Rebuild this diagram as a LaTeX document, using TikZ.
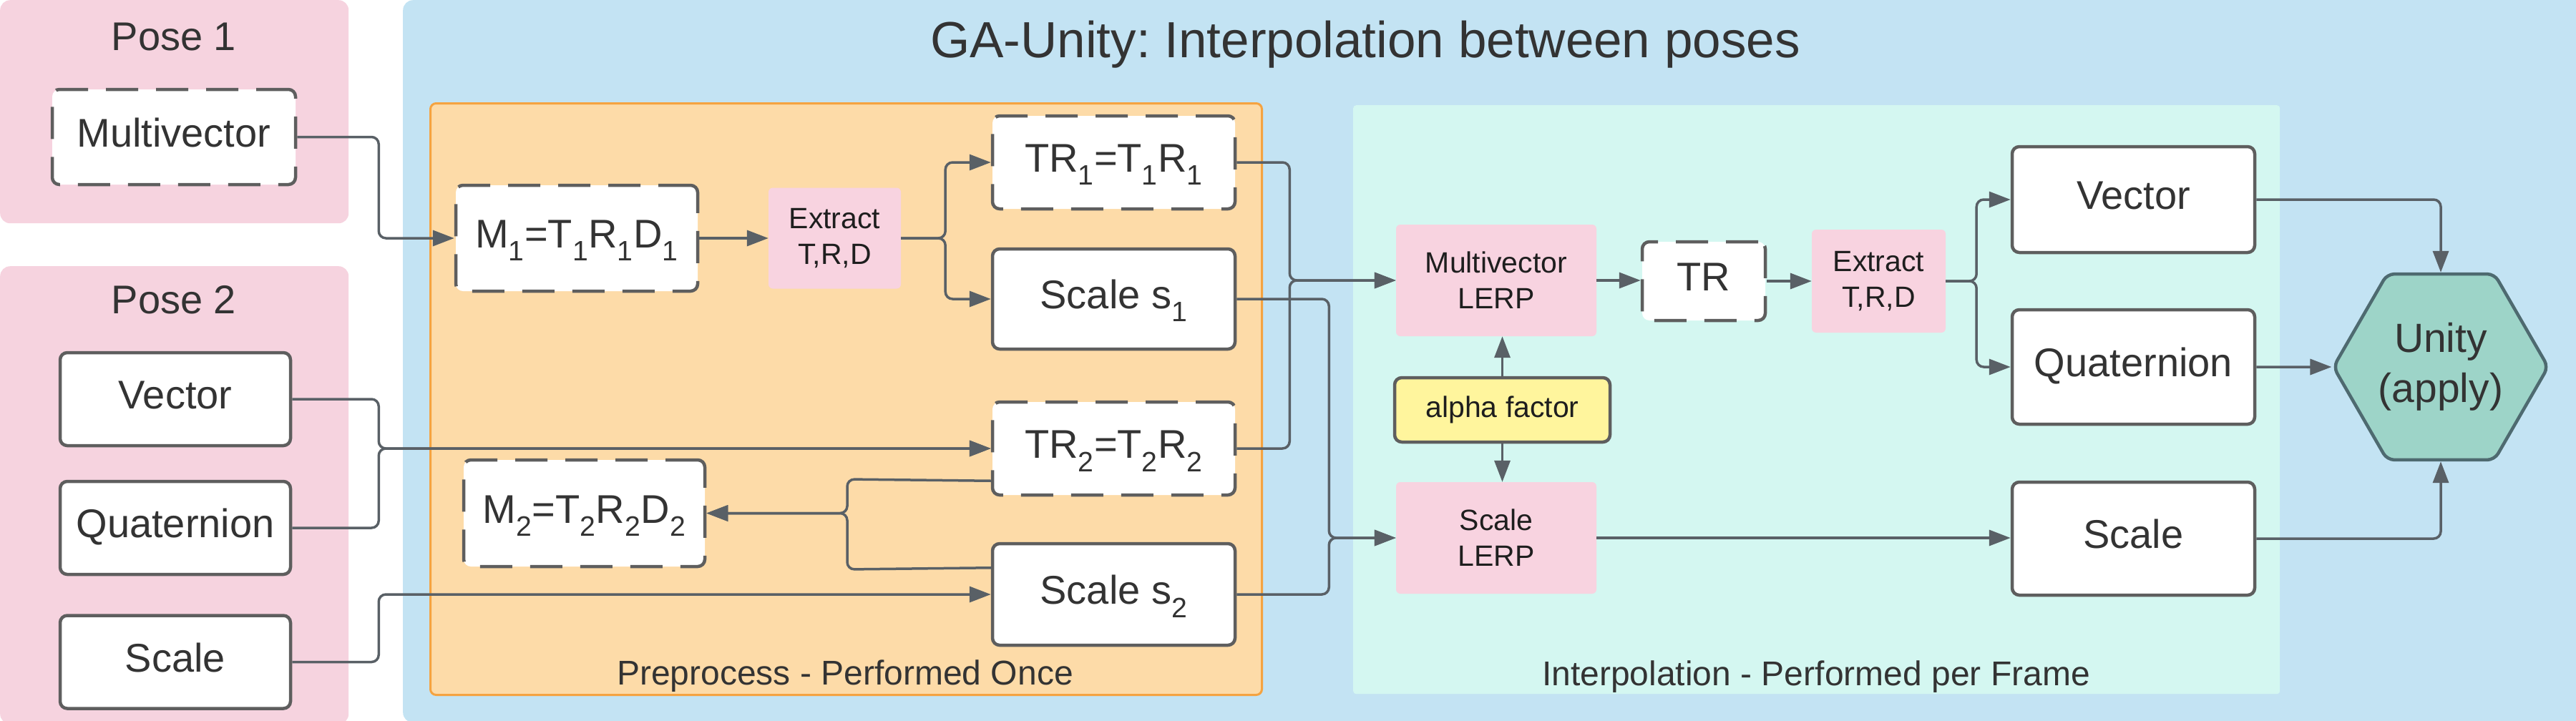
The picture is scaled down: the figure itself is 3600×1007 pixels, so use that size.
\documentclass[tikz,border=0pt]{standalone}
\usepackage{fontspec}
\setmainfont{Liberation Sans}
\usetikzlibrary{arrows.meta,calc,shapes.geometric}
\frenchspacing
\definecolor{posepink}{HTML}{F6D3DF}
\definecolor{nodepink}{HTML}{F8D3E0}
\definecolor{bluebg}{HTML}{C3E3F3}
\definecolor{orangebg}{HTML}{FDDBA8}
\definecolor{orangeline}{HTML}{F5A340}
\definecolor{tealbg}{HTML}{D4F7F1}
\definecolor{yellowbg}{HTML}{FFF59D}
\definecolor{hexfill}{HTML}{9DD4C8}
\definecolor{hexline}{HTML}{4E6A70}
\definecolor{boxline}{HTML}{5E5E5E}
\definecolor{connc}{HTML}{596066}
\definecolor{txt}{HTML}{333333}
\definecolor{txtdark}{HTML}{1E1E1E}
\newcommand\fBox{\fontsize{56}{64}\selectfont}
\newcommand\fSm{\fontsize{41}{50}\selectfont}
\newcommand\fFoot{\fontsize{48}{56}\selectfont}
\newcommand\fTitle{\fontsize{71}{80}\selectfont}
\newcommand\fUnity{\fontsize{57}{70}\selectfont}
\begin{document}
\begin{tikzpicture}[x=1pt,y=-1pt,
  panel/.style={anchor=north west, inner sep=0pt, rounded corners=14pt},
  box/.style={draw=boxline, line width=4.5pt, fill=white, rounded corners=10pt,
    inner sep=0pt, font=\fBox, text=txt, text height=41pt, text depth=14pt},
  dbox/.style={box, dash pattern=on 45pt off 25pt},
  pinkbox/.style={fill=nodepink, rounded corners=6pt, inner sep=0pt, align=center,
    font=\fSm, text=txtdark},
  label/.style={anchor=base, inner sep=0pt, text=txt},
  conn/.style={draw=connc, line width=3.5pt, rounded corners=10pt,
    -{Triangle[length=30pt,width=22pt]}}
]
\useasboundingbox (0,0) rectangle (3600,1007);
% panels
\node[panel, fill=posepink, minimum width=487pt, minimum height=312pt] (pose1) at (0,0) {};
\node[panel, fill=posepink, minimum width=487pt, minimum height=640pt] (pose2) at (0,372) {};
\node[panel, fill=bluebg, minimum width=3060pt, minimum height=1010pt] (main) at (563,0) {};
\node[panel, fill=orangebg, draw=orangeline, line width=3pt, rounded corners=8pt,
  minimum width=1162pt, minimum height=827pt] (pre) at (600,143) {};
\node[panel, fill=tealbg, rounded corners=4pt, minimum width=1295pt, minimum height=823pt] (interp) at (1891,147) {};
% labels
\node[label, font=\fBox] (p1lab) at (243,70) {Pose 1};
\node[label, font=\fBox] (p2lab) at (243,438) {Pose 2};
\node[label, font=\fTitle] (title) at (1908,80) {GA-Unity: Interpolation between poses};
\node[label, font=\fFoot] (prelab) at (1181,957) {Preprocess - Performed Once};
\node[label, font=\fFoot] (intlab) at (2538,958) {Interpolation - Performed per Frame};
% pose nodes
\node[dbox, minimum width=340pt, minimum height=133pt] (mv1) at (243,191.5) {Multivector};
\node[box, minimum width=322pt, minimum height=130pt] (vecL) at (245,558) {Vector};
\node[box, minimum width=322pt, minimum height=130pt] (quatL) at (245,738) {Quaternion};
\node[box, minimum width=322pt, minimum height=130pt] (scaleL) at (245,925.5) {Scale};
% preprocess nodes
\node[dbox, minimum width=338pt, minimum height=148pt] (M1) at (806,333)
  {M\textsubscript{1}=T\textsubscript{1}R\textsubscript{1}D\textsubscript{1}};
\node[pinkbox, minimum width=185pt, minimum height=141pt] (ext1) at (1166.5,333) {Extract\\T,R,D};
\node[dbox, minimum width=339pt, minimum height=130pt] (TR1) at (1556.5,227)
  {TR\textsubscript{1}=T\textsubscript{1}R\textsubscript{1}};
\node[box, minimum width=339pt, minimum height=140pt] (S1) at (1556.5,418) {Scale s\textsubscript{1}};
\node[dbox, minimum width=339pt, minimum height=130pt] (TR2) at (1556.5,627)
  {TR\textsubscript{2}=T\textsubscript{2}R\textsubscript{2}};
\node[dbox, minimum width=337pt, minimum height=149pt] (M2) at (816.5,717.5)
  {M\textsubscript{2}=T\textsubscript{2}R\textsubscript{2}D\textsubscript{2}};
\node[box, minimum width=339pt, minimum height=142pt] (S2) at (1556.5,831) {Scale s\textsubscript{2}};
% interpolation nodes
\node[pinkbox, minimum width=280pt, minimum height=156pt] (MLERP) at (2091,392) {Multivector\\LERP};
\node[draw=boxline, line width=4.5pt, fill=yellowbg, rounded corners=10pt, inner sep=0pt,
  font=\fSm, text=txtdark, minimum width=301pt, minimum height=90pt] (alpha) at (2099.5,573) {alpha factor};
\node[pinkbox, minimum width=280pt, minimum height=156pt] (SLERP) at (2091,752) {Scale\\LERP};
\node[dbox, minimum width=172pt, minimum height=110pt] (TR) at (2381,393) {TR};
\node[pinkbox, minimum width=187pt, minimum height=144pt] (ext2) at (2625.5,393) {Extract\\T,R,D};
\node[box, minimum width=339pt, minimum height=148pt] (vecR) at (2981.5,279) {Vector};
\node[box, minimum width=339pt, minimum height=160pt] (quatR) at (2981.5,513) {Quaternion};
\node[box, minimum width=339pt, minimum height=158pt] (scaleR) at (2981.5,753) {Scale};
\node[regular polygon, regular polygon sides=6, minimum size=300pt, inner sep=0pt,
  draw=hexline, line width=4.5pt, fill=hexfill, rounded corners=10pt,
  font=\fUnity, text=txt, align=center] (unity) at (3411,513) {Unity\\(apply)};
% connectors: pose -> preprocess
\draw[conn] (mv1.east) -- ++(114,0) |- (M1.west);
\draw[conn] (M1.east) -- (ext1.west);
\draw[conn] (ext1.east) -- ++(62,0) |- (TR1.west);
\draw[conn] (ext1.east) -- ++(62,0) |- (S1.west);
\draw[conn] (vecL.east) -- ++(121,0) |- (TR2.west);
\draw[conn] (quatL.east) -- ++(121,0) |- (TR2.west);
\draw[conn] (scaleL.east) -- ++(121,0) |- (S2.west);
\draw[conn] ($(TR2.south west)+(0,-22)$) -- (1184,670) |- (M2.east);
\draw[conn] ($(S2.north west)+(0,36)$) -- (1184,796) |- (M2.east);
% preprocess -> interpolation
\draw[conn] (TR1.east) -- ++(74,0) |- (MLERP.west);
\draw[conn] (TR2.east) -- ++(74,0) |- (MLERP.west);
\draw[conn] (S1.east) -- ++(129,0) |- (SLERP.west);
\draw[conn] (S2.east) -- ++(129,0) |- (SLERP.west);
% interpolation
\draw[conn] (MLERP.east) -- (MLERP.east -| TR.west);
\draw[conn] (TR.east) -- (TR.east -| ext2.west);
\draw[conn] (ext2.east) -- ++(43,0) |- (vecR.west);
\draw[conn] (ext2.east) -- ++(43,0) |- (quatR.west);
\draw[conn] (alpha.north) -- (alpha.north |- MLERP.south);
\draw[conn] (alpha.south) -- (alpha.south |- SLERP.north);
\draw[conn] (SLERP.east) -- (SLERP.east -| scaleR.west);
% to unity
\draw[conn] (vecR.east) -| (unity.north);
\draw[conn] (quatR.east) -- (unity.west);
\draw[conn] (scaleR.east) -| (unity.south);
\end{tikzpicture}
\end{document}
